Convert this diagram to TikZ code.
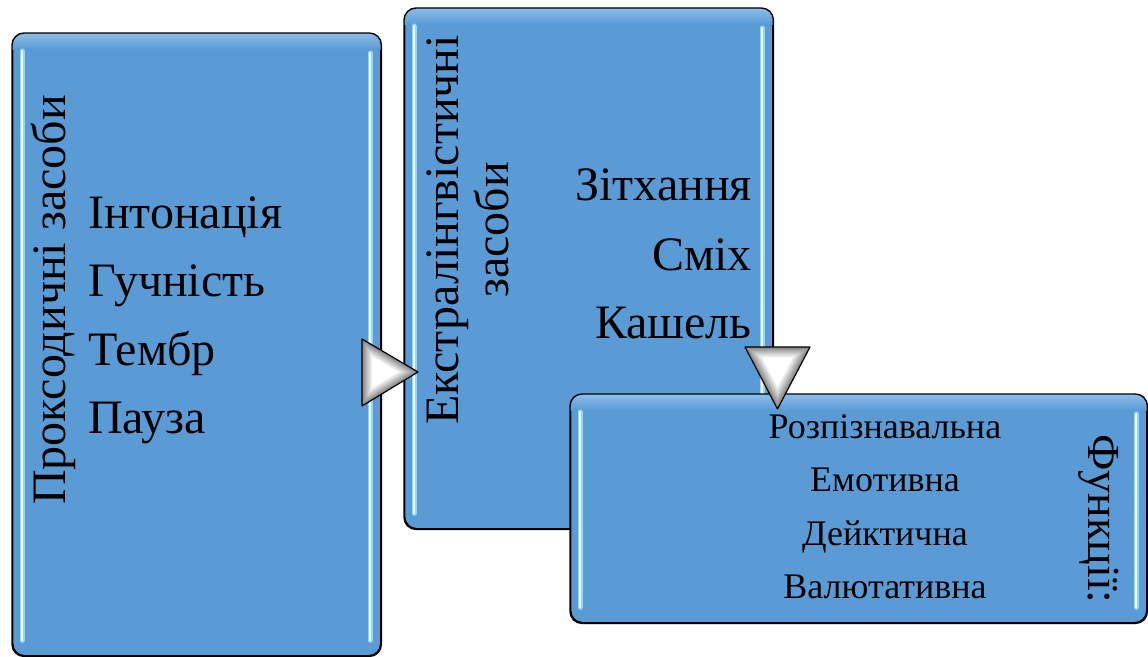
\documentclass[tikz,border=0pt]{standalone}
\usepackage{fontspec}
\setmainfont{Liberation Serif}
\usetikzlibrary{calc}
\definecolor{boxblue}{RGB}{91,155,213}
\definecolor{boxtop}{RGB}{140,190,235}
\definecolor{glowa}{RGB}{150,215,248}
\definecolor{glowb}{RGB}{240,252,255}
\tikzset{
  box/.style={draw=black, line width=1.4pt, fill=boxblue, rounded corners=12pt,
    inner sep=0pt, anchor=north west},
  glowout/.style={draw=glowa, line width=5pt, line cap=round},
  glowin/.style={draw=glowb, line width=2pt, line cap=round},
  big/.style={font=\fontsize{48}{52}\selectfont, inner sep=0pt},
  mid/.style={font=\fontsize{46}{50}\selectfont, inner sep=0pt},
  small/.style={font=\fontsize{36}{40}\selectfont, inner sep=0pt},
  triline/.style={draw=black, line width=1.2pt, line join=round},
}
\newcommand{\glowbox}[1]{%
  \begin{scope}
    \clip[rounded corners=12pt] (#1.north west) rectangle (#1.south east);
    \shade[top color=boxtop, bottom color=boxblue] (#1.north west) rectangle ([yshift=-16pt]#1.north east);
  \end{scope}
  \draw[line width=1.4pt, rounded corners=12pt] (#1.north west) rectangle (#1.south east);
  \draw[glowout] ([xshift=10pt,yshift=-18pt]#1.north west) -- ([xshift=10pt,yshift=16pt]#1.south west);
  \draw[glowout] ([xshift=-11pt,yshift=-20pt]#1.north east) -- ([xshift=-11pt,yshift=16pt]#1.south east);
  \draw[glowin] ([xshift=10pt,yshift=-18pt]#1.north west) -- ([xshift=10pt,yshift=16pt]#1.south west);
  \draw[glowin] ([xshift=-11pt,yshift=-20pt]#1.north east) -- ([xshift=-11pt,yshift=16pt]#1.south east);
}
% bevelled triangle: #1 = incenter, #2,#3,#4 = vertices relative to the incenter
\newcommand{\beveltri}[4]{%
  \foreach \i [evaluate=\i as \s using 1-0.045*\i, evaluate=\i as \c using 52+4*\i] in {0,...,12}{%
    \fill[white!\c!black, shift={#1}, scale=\s] #2 -- #3 -- #4 -- cycle;
  }%
}
\begin{document}
\begin{tikzpicture}[x=1pt,y=-1pt]
\useasboundingbox (0,0) rectangle (1148,656);
% box 1
\node[box, minimum width=368pt, minimum height=622pt] (b1) at (12,33) {};
\glowbox{b1}
\node[big, rotate=90, anchor=base] (t1) at (65,300) {Проксодичні засоби};
\node[big, anchor=base west] (i11) at (88,228) {Інтонація};
\node[big, anchor=base west] (i12) at (88,296) {Гучність};
\node[big, anchor=base west] (i13) at (88,365) {Тембр};
\node[big, anchor=base west] (i14) at (88,433) {Пауза};
% box 2
\node[box, minimum width=368pt, minimum height=520pt] (b2) at (404,8) {};
\glowbox{b2}
\node[big, rotate=90, anchor=base] (t2a) at (458,230) {Екстралінгвістичні};
\node[big, rotate=90, anchor=base] (t2b) at (508,230) {засоби};
\node[big, anchor=base east] (i21) at (752,200) {Зітхання};
\node[big, anchor=base east] (i22) at (752,270) {Сміх};
\node[big, anchor=base east] (i23) at (752,338) {Кашель};
% box 3
\node[box, minimum width=576pt, minimum height=228pt] (b3) at (570,394) {};
\glowbox{b3}
\node[mid, rotate=-90, anchor=base] (t3) at (1088,519) {Функції:};
\node[small, anchor=base] (i31) at (885,438) {Розпізнавальна};
\node[small, anchor=base] (i32) at (885,491) {Емотивна};
\node[small, anchor=base] (i33) at (885,545) {Дейктична};
\node[small, anchor=base] (i34) at (885,598) {Валютативна};
% arrow from box 1 to box 2
\coordinate (rc) at (381,372);
\coordinate (r1) at (362,339);
\coordinate (rt) at (418,372);
\coordinate (r2) at (362,406);
\beveltri{(381,372)}{(-19,-33)}{(37,0)}{(-19,34)}
\draw[triline] (r1) -- (rt) -- (r2) -- cycle;
% arrow from box 2 to box 3
\coordinate (dc) at (777.5,366.7);
\coordinate (d1) at (745,347);
\coordinate (d2) at (810,347);
\coordinate (dt) at (777.5,409);
\beveltri{(777.5,366.7)}{(-32.5,-19.7)}{(32.5,-19.7)}{(0,42.3)}
\draw[triline] (d1) -- (d2) -- (dt) -- cycle;
\end{tikzpicture}
\end{document}
